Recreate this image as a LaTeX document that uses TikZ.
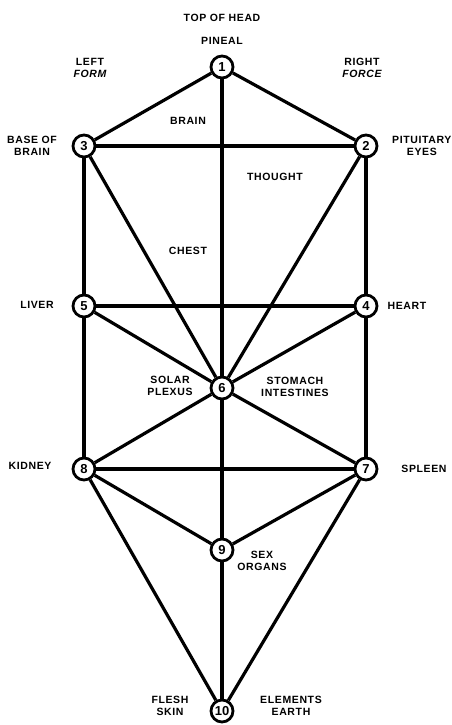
\documentclass[tikz,border=0pt]{standalone}
\usepackage{fontspec}
\setmainfont{Liberation Sans}
\newfontfamily\lblfont[LetterSpace=6]{Liberation Sans}
\begin{document}
\begin{tikzpicture}[x=1pt,y=-1pt,
  sef/.style={circle,draw,line width=2.8pt,minimum size=22pt,inner sep=0pt,fill=white,font=\fontsize{13}{13}\selectfont\bfseries},
  edge/.style={line width=3.2pt},
  lbl/.style={font=\lblfont\fontsize{10.5}{12}\selectfont\bfseries,align=center,inner sep=0pt}]
\useasboundingbox (0,0) rectangle (451,725);
\fill[white] (0,0) rectangle (451,725);
\node[sef] (n1) at (222,67) {1};
\node[sef] (n2) at (366,146) {2};
\node[sef] (n3) at (84,146) {3};
\node[sef] (n4) at (366,306) {4};
\node[sef] (n5) at (84,306) {5};
\node[sef] (n6) at (222,388) {6};
\node[sef] (n7) at (366,469) {7};
\node[sef] (n8) at (84,469) {8};
\node[sef] (n9) at (222,550) {9};
\node[sef] (n10) at (222,711) {10};
\foreach \a/\b in {n1/n3,n1/n2,n1/n6,n3/n2,n3/n5,n3/n6,n2/n4,n2/n6,n5/n4,n5/n6,n4/n6,n5/n8,n4/n7,n6/n8,n6/n7,n6/n9,n8/n7,n8/n9,n7/n9,n8/n10,n7/n10,n9/n10}
  \draw[edge] (\a) -- (\b);
\node[lbl] (t1) at (222,18) {TOP OF HEAD};
\node[lbl] (t2) at (222,41) {PINEAL};
\node[lbl] (t3) at (90,68) {LEFT\\\itshape FORM};
\node[lbl] (t4) at (362,68) {RIGHT\\\itshape FORCE};
\node[lbl] (t5) at (188,121) {BRAIN};
\node[lbl] (t6) at (32,146) {BASE OF\\BRAIN};
\node[lbl,anchor=west] (t7) at (392,146) {PITUITARY\\EYES};
\node[lbl] (t8) at (275,177) {THOUGHT};
\node[lbl] (t9) at (188,251) {CHEST};
\node[lbl] (t10) at (37,305) {LIVER};
\node[lbl] (t11) at (407,306) {HEART};
\node[lbl] (t12) at (170,386) {SOLAR\\PLEXUS};
\node[lbl] (t13) at (295,387) {STOMACH\\INTESTINES};
\node[lbl] (t14) at (30,466) {KIDNEY};
\node[lbl] (t15) at (424,469) {SPLEEN};
\node[lbl] (t16) at (262,561) {SEX\\ORGANS};
\node[lbl] (t17) at (170,706) {FLESH\\SKIN};
\node[lbl] (t18) at (291,706) {ELEMENTS\\EARTH};
\end{tikzpicture}
\end{document}
